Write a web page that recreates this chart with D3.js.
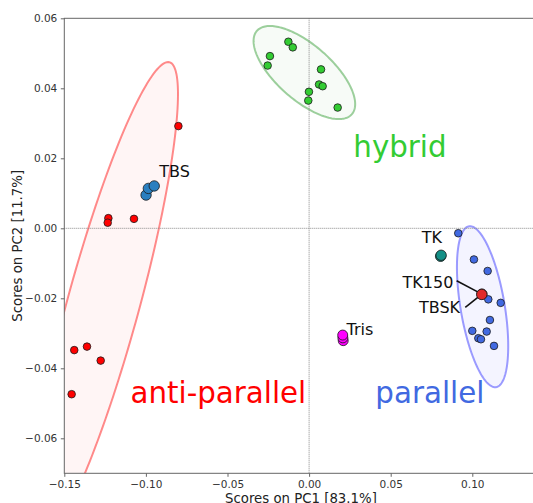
<!DOCTYPE html>
<html>
<head>
<meta charset="utf-8">
<script src="https://cdn.jsdelivr.net/npm/d3@7"></script>
<style>
  body { margin: 0; background: #fff; }
  text { font-family: "DejaVu Sans", sans-serif; }
  .axis path, .axis line { stroke: #666; }
  .axis text { fill: #333; font-size: 10.5px; }
</style>
</head>
<body>
<script>
// group scores (PC1, PC2)
var antiParallel = [[-0.0801, 0.0292], [-0.1230, 0.0029], [-0.1234, 0.0016], [-0.1073, 0.0027],
  [-0.1439, -0.0348], [-0.1361, -0.0338], [-0.1277, -0.0378], [-0.1455, -0.0474]];
var hybrid = [[-0.0127, 0.0533], [-0.0100, 0.0517], [-0.0240, 0.0492], [-0.0254, 0.0465],
  [0.0073, 0.0454], [0.0061, 0.0411], [0.0083, 0.0406], [-0.0001, 0.0390],
  [-0.0005, 0.0365], [0.0175, 0.0345]];
var parallel = [[0.0914, -0.0014], [0.1010, -0.0089], [0.1094, -0.0122], [0.1098, -0.0203],
  [0.1174, -0.0213], [0.1108, -0.0262], [0.1000, -0.0293], [0.1088, -0.0295],
  [0.1037, -0.0314], [0.1053, -0.0317], [0.1133, -0.0336]];

// labelled samples
var tbs = [[-0.0999, 0.0095], [-0.0985, 0.0114], [-0.0949, 0.0121]];
var tk = [[0.0806, -0.0080], [0.0809, -0.0077]];
var tk150 = [[0.1059, -0.0188], [0.1058, -0.0189]];
var tris = [[0.0209, -0.0321], [0.0207, -0.0313], [0.0206, -0.0305]];

// confidence ellipses: centre + two conjugate half-axes, in score units
var ellipseCentres = [[-0.1262, -0.0219], [-0.0029, 0.0445], [0.1063, -0.0224]];
var ellipseAxisA = [[0.0398, 0.0694], [-0.0211, 0.0133], [-0.0077, 0.0230]];
var ellipseAxisB = [[0.0228, 0], [0.0229, 0], [0.0137, 0]];

var xTicks = [-0.15, -0.10, -0.05, 0.00, 0.05, 0.10];
var yTicks = [-0.06, -0.04, -0.02, 0.00, 0.02, 0.04, 0.06];
var xLabel = "Scores on PC1 [83.1%]";
var yLabel = "Scores on PC2 [11.7%]";

var W = 533, H = 503;
var padLeft = 64.3, padTop = 18.3, padBottom = 473.3;
var xScale = d3.scaleLinear().domain([-0.15, 0.14]).range([padLeft, padLeft + 0.29 * 1632]);
var yScale = d3.scaleLinear().domain([-0.07, 0.06]).range([padBottom, padTop]);
var plotW = xScale.range()[1] - padLeft, plotH = padBottom - padTop;

var svg = d3.select("body").append("svg")
    .attr("width", W)
    .attr("height", H);

svg.append("clipPath").attr("id", "plot-clip")
  .append("rect")
    .attr("x", padLeft).attr("y", padTop)
    .attr("width", plotW).attr("height", plotH);

var plot = svg.append("g").attr("clip-path", "url(#plot-clip)");

// ellipses
var ellStyles = [
  {stroke: "rgba(255,0,0,0.45)", fill: "rgba(255,0,0,0.04)"},
  {stroke: "rgba(40,150,40,0.45)", fill: "rgba(40,150,40,0.04)"},
  {stroke: "rgba(60,60,255,0.5)", fill: "rgba(60,60,255,0.06)"}
];
var ts = d3.range(0, 2 * Math.PI + 0.001, Math.PI / 90);
var ellLine = d3.line()
    .x(function(d) { return xScale(d[0]); })
    .y(function(d) { return yScale(d[1]); });
ellipseCentres.forEach(function(c, i) {
  var a = ellipseAxisA[i], b = ellipseAxisB[i];
  var pts = ts.map(function(t) {
    return [c[0] + a[0] * Math.cos(t) + b[0] * Math.sin(t),
            c[1] + a[1] * Math.cos(t) + b[1] * Math.sin(t)];
  });
  plot.append("path")
      .attr("d", ellLine(pts) + "Z")
      .attr("fill", ellStyles[i].fill)
      .attr("stroke", ellStyles[i].stroke)
      .attr("stroke-width", 2);
});

// zero lines
plot.append("line")
    .attr("x1", xScale(0)).attr("x2", xScale(0))
    .attr("y1", padTop).attr("y2", padBottom)
    .attr("stroke", "#888").attr("stroke-width", 1).attr("stroke-dasharray", "1,1");
plot.append("line")
    .attr("x1", padLeft).attr("x2", padLeft + plotW)
    .attr("y1", yScale(0)).attr("y2", yScale(0))
    .attr("stroke", "#888").attr("stroke-width", 1).attr("stroke-dasharray", "1,1");

function drawPoints(data, r, fill) {
  plot.append("g").selectAll("circle")
    .data(data)
    .enter().append("circle")
      .attr("cx", function(d) { return xScale(d[0]); })
      .attr("cy", function(d) { return yScale(d[1]); })
      .attr("r", r)
      .attr("fill", fill)
      .attr("stroke", "#1a1a1a")
      .attr("stroke-width", 0.8);
}
drawPoints(antiParallel, 3.8, "#ff0000");
drawPoints(hybrid, 3.8, "#33cc33");
drawPoints(parallel, 3.8, "#4169e1");
drawPoints(tbs, 5.2, "#2a7fc0");
drawPoints(tk, 5.2, "#138f86");
drawPoints(tris, 5.0, "#ff00ff");

// annotation lines for the overlapping red sample
var annot = [
  {text: "TK150", tx: 0.0884, ty: -0.0170, from: [0.0904, -0.0150]},
  {text: "TBSK", tx: 0.0925, ty: -0.0243, from: [0.0957, -0.0226]}
];
annot.forEach(function(a) {
  plot.append("line")
      .attr("x1", xScale(a.from[0])).attr("y1", yScale(a.from[1]))
      .attr("x2", xScale(tk150[0][0])).attr("y2", yScale(tk150[0][1]))
      .attr("stroke", "#111").attr("stroke-width", 1.6);
});
drawPoints(tk150, 5.2, "#e02a2a");

// sample labels
var sampleLabels = [
  {text: "TBS", x: -0.0918, y: 0.0147, anchor: "start"},
  {text: "TK", x: 0.0690, y: -0.0041, anchor: "start"},
  {text: "Tris", x: 0.0229, y: -0.0305, anchor: "start"}
].concat(annot.map(function(a) {
  return {text: a.text, x: a.tx, y: a.ty, anchor: "end"};
}));
plot.selectAll("text.sample")
  .data(sampleLabels)
  .enter().append("text")
    .attr("class", "sample")
    .attr("x", function(d) { return xScale(d.x); })
    .attr("y", function(d) { return yScale(d.y); })
    .attr("text-anchor", function(d) { return d.anchor; })
    .attr("font-size", "16px")
    .attr("fill", "#111")
    .text(function(d) { return d.text; });

// group labels
var groupLabels = [
  {text: "hybrid", x: 0.0271, y: 0.0205, color: "#33cc33"},
  {text: "anti-parallel", x: -0.1094, y: -0.0500, color: "#ff0000"},
  {text: "parallel", x: 0.0406, y: -0.0500, color: "#4169e1"}
];
plot.selectAll("text.group")
  .data(groupLabels)
  .enter().append("text")
    .attr("class", "group")
    .attr("x", function(d) { return xScale(d.x); })
    .attr("y", function(d) { return yScale(d.y); })
    .attr("font-size", "29.3px")
    .attr("fill", function(d) { return d.color; })
    .text(function(d) { return d.text; });

// frame (right edge falls outside the picture)
svg.append("rect")
    .attr("x", padLeft).attr("y", padTop)
    .attr("width", plotW).attr("height", plotH)
    .attr("fill", "none").attr("stroke", "#666").attr("stroke-width", 1);

// axes
var fmt = d3.format(".2f");
svg.append("g")
    .attr("class", "axis")
    .attr("transform", "translate(0," + padBottom + ")")
    .call(d3.axisBottom(xScale).tickValues(xTicks).tickFormat(fmt).tickSize(3.5).tickPadding(3.5))
    .call(function(g) { g.select(".domain").remove(); });
svg.append("g")
    .attr("class", "axis")
    .attr("transform", "translate(" + padLeft + ",0)")
    .call(d3.axisLeft(yScale).tickValues(yTicks).tickFormat(fmt).tickSize(3.5).tickPadding(3.5))
    .call(function(g) { g.select(".domain").remove(); });

svg.append("text")
    .attr("x", padLeft + plotW / 2)
    .attr("y", 503)
    .attr("text-anchor", "middle")
    .attr("font-size", "13.3px")
    .attr("fill", "#222")
    .text(xLabel);
svg.append("text")
    .attr("transform", "translate(22," + (padTop + plotH / 2) + ") rotate(-90)")
    .attr("text-anchor", "middle")
    .attr("font-size", "13.3px")
    .attr("fill", "#222")
    .text(yLabel);
</script>
</body>
</html>
